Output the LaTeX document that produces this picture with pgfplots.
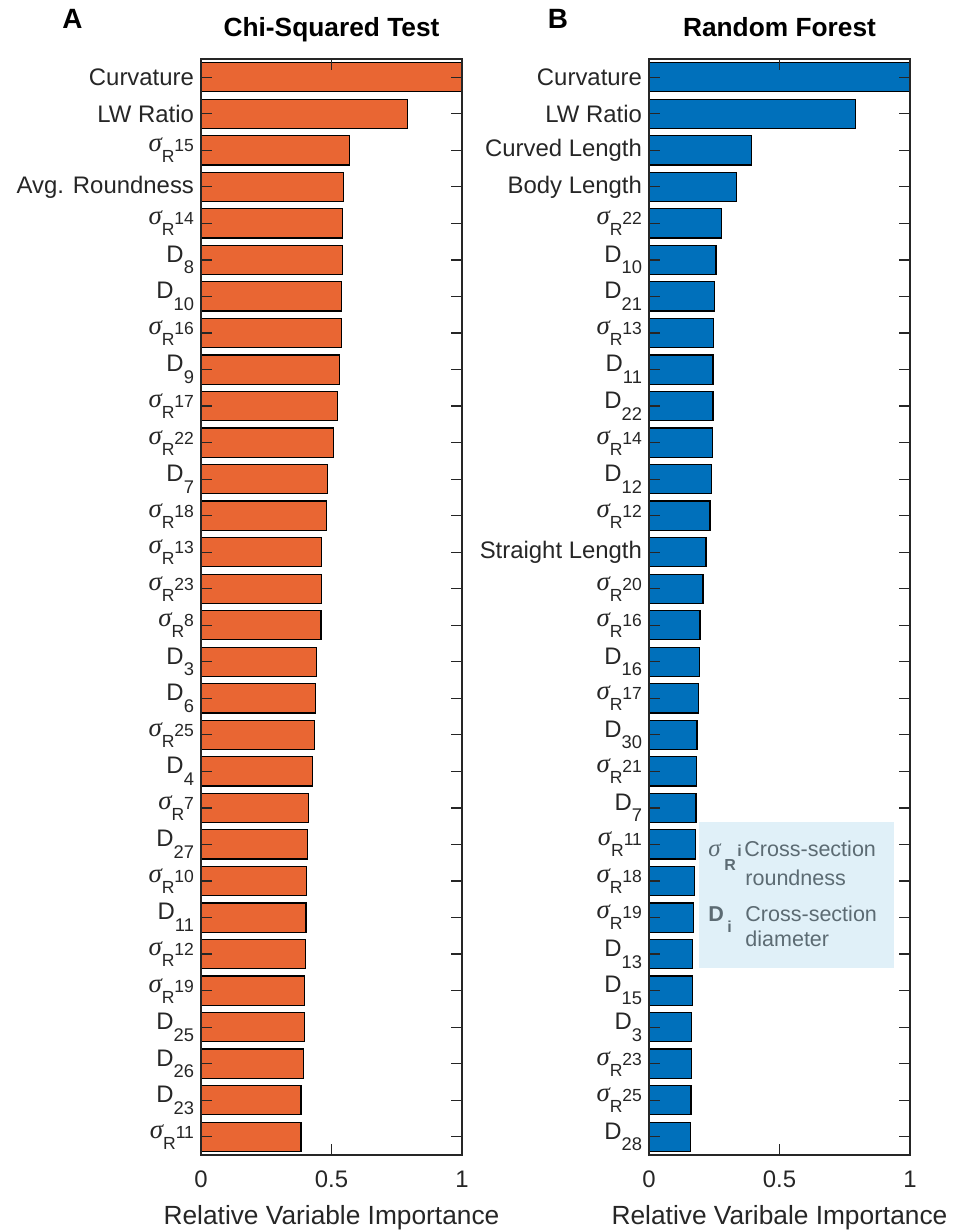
\documentclass[border=0pt]{standalone}
\usepackage{fontspec}
\setmainfont{Liberation Sans}
\newfontfamily\greekfont{Liberation Serif}
\usepackage{pgfplots}
\usepackage{pgfplotstable}
\pgfplotsset{compat=1.18}

\definecolor{barorange}{HTML}{E96633}
\definecolor{barblue}{HTML}{0070BB}
\definecolor{axgray}{HTML}{262626}
\definecolor{notefill}{HTML}{E0F0F8}
\definecolor{notetext}{HTML}{5C6B73}

% feature names: diameter D_k and roundness sigma_R^k
\newcommand{\Dk}[1]{D\raisebox{-5.8bp}{\fontsize{9.2}{9}\selectfont #1}}
\newcommand{\Sk}[1]{{\greekfont\itshape\fontsize{13.5}{14}\selectfont σ}\raisebox{-5.5bp}{\fontsize{8.8}{9}\selectfont R}{\fontsize{8.8}{9}\selectfont #1}}

% rank 1 = most important (drawn at the top)
\pgfplotstableread{
rank val
1  1.000
2  0.792
3  0.570
4  0.546
5  0.543
6  0.541
7  0.538
8  0.538
9  0.532
10 0.524
11 0.508
12 0.485
13 0.481
14 0.463
15 0.462
16 0.460
17 0.444
18 0.439
19 0.435
20 0.427
21 0.411
22 0.408
23 0.403
24 0.402
25 0.401
26 0.398
27 0.397
28 0.394
29 0.383
30 0.383
}\chisq

\pgfplotstableread{
rank val
1  1.000
2  0.792
3  0.393
4  0.335
5  0.278
6  0.257
7  0.251
8  0.248
9  0.245
10 0.245
11 0.243
12 0.240
13 0.234
14 0.218
15 0.207
16 0.195
17 0.194
18 0.189
19 0.184
20 0.182
21 0.180
22 0.178
23 0.174
24 0.170
25 0.167
26 0.166
27 0.164
28 0.162
29 0.161
30 0.159
}\rforest

\pgfplotsset{
  imp/.style={
    scale only axis, width=130.5bp, height=548bp,
    xbar, bar width=0.8,
    xmin=0, xmax=1, ymin=0.5, ymax=30.5,
    xtick={0,0.5,1}, ytick={1,...,30},
    /pgf/number format/assume math mode=true,
    tick align=inside, tick pos=both, major tick length=5.5bp,
    axis on top,
    axis line style={axgray, line width=0.6bp},
    every tick/.style={axgray, line width=0.6bp},
    ticklabel style={font=\fontsize{12}{14}\selectfont, text=axgray},
    xticklabel style={anchor=base, yshift=-16bp},
    title style={at={(0.5,1)}, anchor=base, yshift=5.5bp,
      font=\bfseries\fontsize{13.2}{15}\selectfont},
    xlabel style={at={(axis description cs:0.5,0)}, anchor=base, yshift=-34.5bp,
      font=\fontsize{13.2}{15}\selectfont, text=axgray},
  }
}

\begin{document}
\begin{tikzpicture}

\begin{axis}[imp, at={(100.5bp,-29.5bp)}, anchor=north west,
  title={Chi-Squared Test}, xlabel={Relative Variable Importance},
  yticklabels={{\Sk{11}},{\Dk{23}},{\Dk{26}},{\Dk{25}},{\Sk{19}},{\Sk{12}},{\Dk{11}},{\Sk{10}},{\Dk{27}},{\Sk{7}},
    {\Dk{4}},{\Sk{25}},{\Dk{6}},{\Dk{3}},{\Sk{8}},{\Sk{23}},{\Sk{13}},{\Sk{18}},{\Dk{7}},{\Sk{22}},
    {\Sk{17}},{\Dk{9}},{\Sk{16}},{\Dk{10}},{\Dk{8}},{\Sk{14}},{Avg. Roundness},{\Sk{15}},{LW Ratio},{Curvature}}]
\addplot[fill=barorange, draw=black, line width=0.6bp]
  table[x=val, y expr=31-\thisrow{rank}] {\chisq};
\end{axis}

\begin{axis}[imp, at={(324.5bp,-29.5bp)}, anchor=north west,
  title={Random Forest}, xlabel={Relative Varibale Importance},
  yticklabels={{\Dk{28}},{\Sk{25}},{\Sk{23}},{\Dk{3}},{\Dk{15}},{\Dk{13}},{\Sk{19}},{\Sk{18}},{\Sk{11}},{\Dk{7}},
    {\Sk{21}},{\Dk{30}},{\Sk{17}},{\Dk{16}},{\Sk{16}},{\Sk{20}},{Straight Length},{\Sk{12}},{\Dk{12}},{\Sk{14}},
    {\Dk{22}},{\Dk{11}},{\Sk{13}},{\Dk{21}},{\Dk{10}},{\Sk{22}},{Body Length},{Curved Length},{LW Ratio},{Curvature}}]
\addplot[fill=barblue, draw=black, line width=0.6bp]
  table[x=val, y expr=31-\thisrow{rank}] {\rforest};
\end{axis}

% panel letters
\node[anchor=base, font=\bfseries\fontsize{14}{16}\selectfont] at (36.25bp,-14.15bp) {A};
\node[anchor=base, font=\bfseries\fontsize{14}{16}\selectfont] at (279bp,-14.15bp) {B};

% key to the feature symbols
\fill[notefill] (349.7bp,-410.8bp) rectangle (447bp,-484.2bp);
\begin{scope}[every node/.style={anchor=base west, inner sep=0pt, text=notetext}]
\node[font=\greekfont\itshape\fontsize{12.5}{13}\selectfont] at (354bp,-428.3bp) {σ};
\node[font=\bfseries\fontsize{8}{8}\selectfont] at (362bp,-435bp) {R};
\node[font=\bfseries\fontsize{8}{8}\selectfont] at (368.5bp,-428.3bp) {i};
\node[font=\fontsize{10.8}{12}\selectfont] at (372bp,-428.3bp) {Cross-section};
\node[font=\fontsize{10.8}{12}\selectfont] at (372.5bp,-442.5bp) {roundness};
\node[font=\bfseries\fontsize{10.8}{12}\selectfont] at (354bp,-460.8bp) {D};
\node[font=\bfseries\fontsize{8}{8}\selectfont] at (363.5bp,-466.2bp) {i};
\node[font=\fontsize{10.8}{12}\selectfont] at (372.5bp,-460.8bp) {Cross-section};
\node[font=\fontsize{10.8}{12}\selectfont] at (372.5bp,-473.3bp) {diameter};
\end{scope}

\pgfresetboundingbox
\path (0,0) rectangle (482.5bp,-615bp);
\end{tikzpicture}
\end{document}
